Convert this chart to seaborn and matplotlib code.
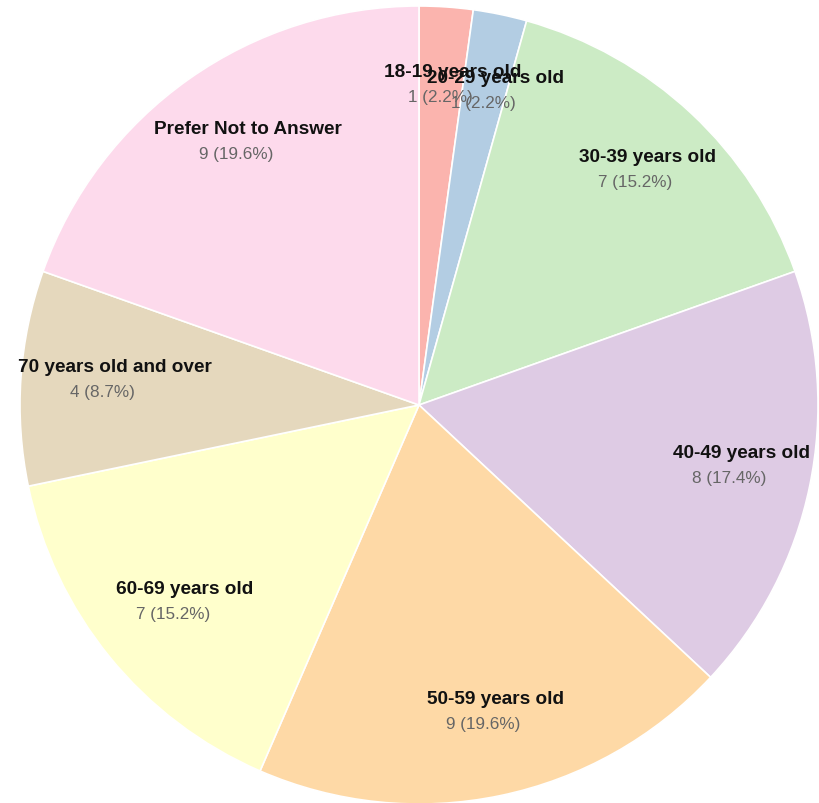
import numpy as np
import matplotlib
matplotlib.use("Agg")
import matplotlib.pyplot as plt
import seaborn as sns

# age groups and counts
labels = ["18-19 years old", "20-29 years old", "30-39 years old", "40-49 years old",
          "50-59 years old", "60-69 years old", "70 years old and over", "Prefer Not to Answer"]
counts = [1, 1, 7, 8, 9, 7, 4, 9]

sns.set_style("white")
plt.rcParams['font.family'] = ['Liberation Sans', 'DejaVu Sans']

colors = sns.color_palette("Pastel1", len(counts))

fig = plt.figure(figsize=(8.19, 8.04), dpi=100)
ax = fig.add_axes([20 / 819, (398 - 399) / 804, 798 / 819, 798 / 804])

wedges, _ = ax.pie(counts, colors=colors, startangle=90, counterclock=False,
                   radius=1, wedgeprops=dict(edgecolor="white", linewidth=1.2))
ax.set_xlim(-1, 1)
ax.set_ylim(-1, 1)
ax.axis("off")

total = sum(counts)
px = 1 / 399  # one pixel in data units
for w, lab, c in zip(wedges, labels, counts):
    ang = np.deg2rad((w.theta1 + w.theta2) / 2)
    r = 0.795
    x, y = r * np.cos(ang), r * np.sin(ang) - 5 * px
    # bold labels sit a little right of the value line in the original
    ax.text(x + 12 * px, y + 22 * px, lab, ha="center", va="center", fontsize=13.7,
            fontweight="bold", color="#111111")
    ax.text(x, y - 3 * px, f"{c} ({c / total * 100:.1f}%)", ha="center", va="center",
            fontsize=12.3, color="#666666")

fig.savefig("out.png", dpi=100)
